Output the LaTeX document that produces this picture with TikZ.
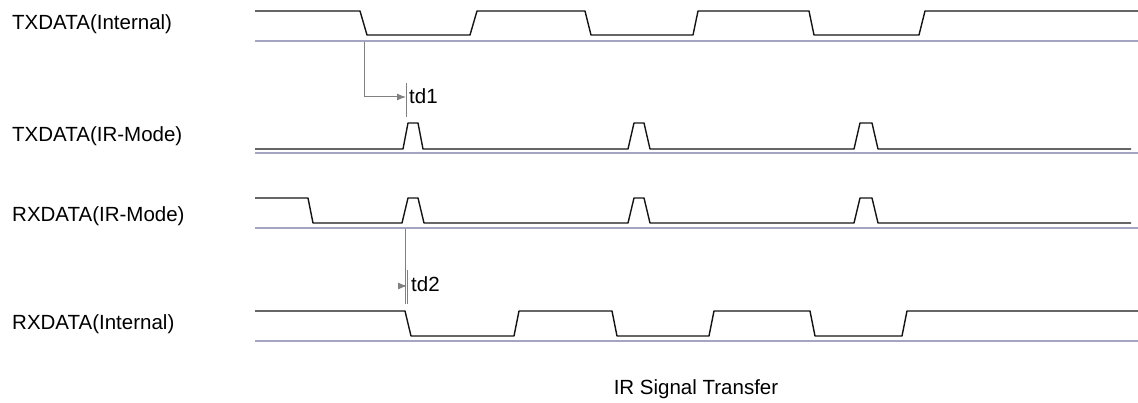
\documentclass[tikz,border=0pt]{standalone}
\usepackage{fontspec}
\setmainfont{Liberation Sans}
\usepackage{tikz}
\usetikzlibrary{arrows.meta, positioning, calc}
\usepackage{xcolor}
\definecolor{wavegray}{RGB}{20,20,20}
\definecolor{baseblue}{RGB}{165,165,195}
\definecolor{delaygray}{RGB}{128,128,128}

\begin{document}
\begin{tikzpicture}[
    x=1pt, y=-1pt,
    wave/.style={draw=wavegray, line width=1.4pt, line join=round},
    baseline/.style={draw=baseblue, line width=1.4pt},
    signame/.style={anchor=base west, inner sep=0pt, font=\fontsize{20.5}{24}\selectfont},
    delay/.style={draw=delaygray, line width=1pt},
    delayarrow/.style={delay, -{Latex[length=9pt, width=7pt]}}
]
\useasboundingbox (0,0) rectangle (1138,403);

% Signal names
\node[signame] (txint) at (12,30) {TXDATA(Internal)};
\node[signame] (txir) at (12,142) {TXDATA(IR-Mode)};
\node[signame] (rxir) at (12,222) {RXDATA(IR-Mode)};
\node[signame] (rxint) at (12,330) {RXDATA(Internal)};

% Baselines
\draw[baseline] (255,41) -- (1138,41);
\draw[baseline] (255,153) -- (1138,153);
\draw[baseline] (255,228) -- (1138,228);
\draw[baseline] (255,341) -- (1138,341);

% TXDATA(Internal)
\draw[wave] (255,11) -- (360,11) -- (367,35) -- (470,35) -- (477,11)
    -- (585,11) -- (591,35) -- (693,35) -- (698,11) -- (809,11) -- (814,35)
    -- (919,35) -- (925,11) -- (1138,11);

% TXDATA(IR-Mode)
\draw[wave] (255,149) -- (403,149) -- (408,123) -- (418,123) -- (423,149)
    -- (628,149) -- (634,123) -- (644,123) -- (650,149)
    -- (854,149) -- (860,123) -- (872,123) -- (878,149) -- (1131,149);

% RXDATA(IR-Mode)
\draw[wave] (255,198) -- (308,198) -- (313,223) -- (402,223) -- (408,198)
    -- (418,198) -- (424,223) -- (628,223) -- (634,198) -- (644,198)
    -- (650,223) -- (854,223) -- (860,198) -- (872,198) -- (878,223)
    -- (1131,223);

% RXDATA(Internal)
\draw[wave] (255,311) -- (405,311) -- (411,336) -- (514,336) -- (519,311)
    -- (612,311) -- (617,336) -- (709,336) -- (714,311) -- (810,311)
    -- (815,336) -- (902,336) -- (907,311) -- (1138,311);

% Delay td1
\coordinate (txfall) at (364,42);
\coordinate (td1top) at (406,83);
\coordinate (td1bot) at (406,117);
\coordinate (td1end) at (406,97);
\draw[delay] (td1top) -- (td1bot);
\draw[delayarrow] (txfall) |- (td1end);
\node[signame] (td1) at (409,104) {td1};

% Delay td2
\coordinate (rxpulse) at (405,229);
\coordinate (td2top) at (407,270);
\coordinate (td2bot) at (407,304);
\coordinate (td2end) at (407,286);
\draw[delay] (rxpulse) -- (405,304);
\draw[delay] (td2top) -- (td2bot);
\draw[delayarrow] (rxpulse) |- (td2end);
\node[signame] (td2) at (411,292) {td2};

% Title
\node[signame, anchor=base] (title) at (696,394) {IR Signal Transfer};

\end{tikzpicture}
\end{document}
